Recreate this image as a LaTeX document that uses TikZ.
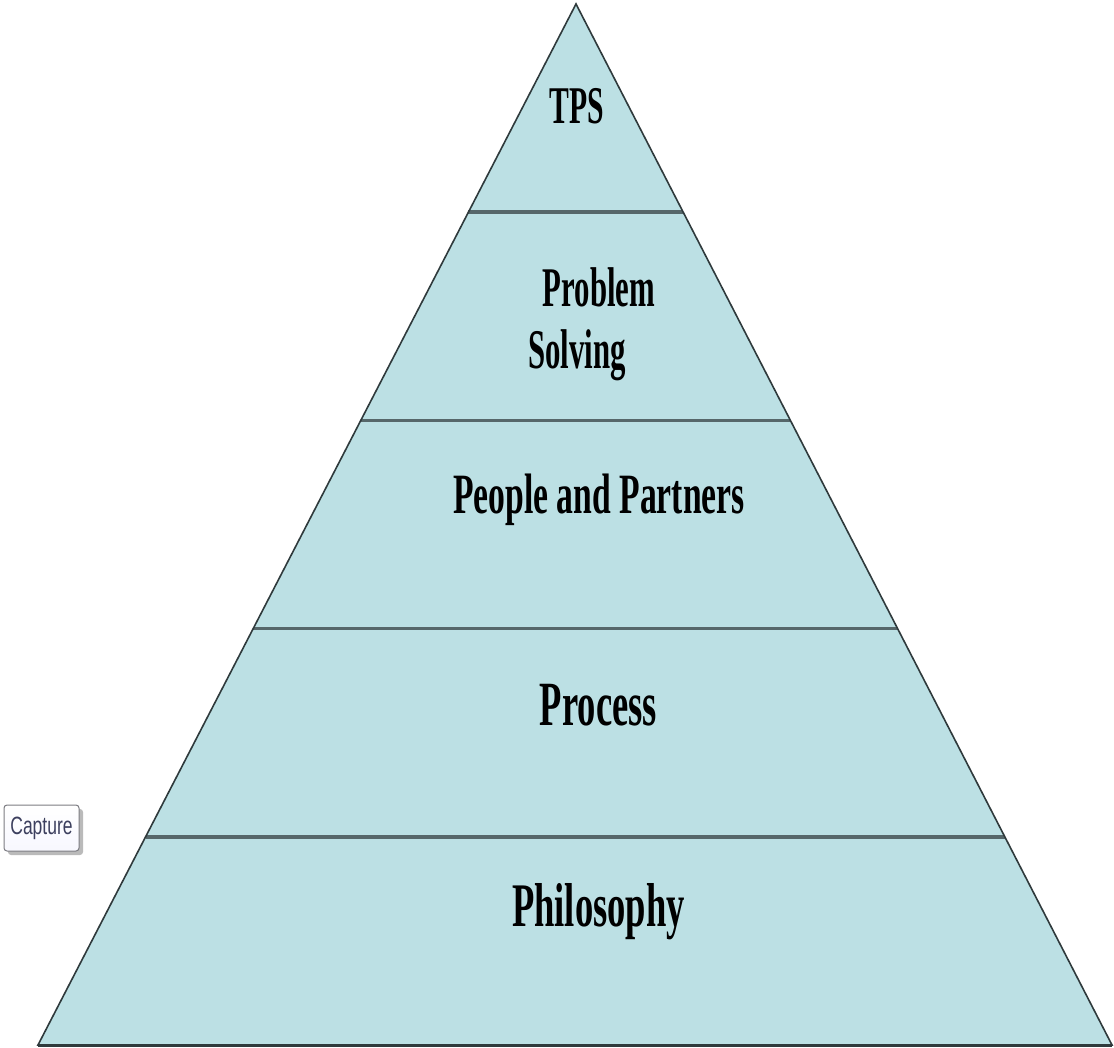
\documentclass[tikz,border=0pt]{standalone}
\usepackage{fontspec}
\setmainfont{Liberation Serif}
\newfontfamily\btnfont{Liberation Sans}
\usetikzlibrary{calc,shadows}
\definecolor{pyrfill}{HTML}{BCE0E4}
\definecolor{bandline}{HTML}{56676A}
\definecolor{edgecol}{HTML}{2F3A3C}
\definecolor{btntext}{HTML}{3C3F5E}
\definecolor{btnborder}{HTML}{7C7C82}
\begin{document}
\begin{tikzpicture}[x=1pt,y=-1pt,
  lbl/.style={anchor=base, inner sep=0pt, font=\bfseries, text=black},
  bandsep/.style={draw=bandline, line width=3.4pt},
  outline/.style={draw=edgecol, line width=1.6pt, line join=miter},
  btn/.style={draw=btnborder, line width=1pt, rounded corners=3pt,
    top color=white, bottom color=black!8!blue!3!white,
    minimum width=75pt, minimum height=46pt, inner sep=0pt,
    drop shadow={shadow xshift=4pt, shadow yshift=-4pt, fill=black!45, opacity=0.6}}]
\useasboundingbox (0,0) rectangle (1114,1048);
\coordinate (apex) at (576,4);
\coordinate (bl) at (38,1045);
\coordinate (br) at (1112,1045);
\fill[pyrfill] (apex) -- (br) -- (bl) -- cycle;
\foreach \t/\n in {0.2/a,0.4/b,0.6/c,0.8/d}{
  \coordinate (l\n) at ($(apex)!\t!(bl)$);
  \coordinate (r\n) at ($(apex)!\t!(br)$);
  \draw[bandsep] (l\n) -- (r\n);
}
\draw[outline] (apex) -- (br) -- (bl) -- cycle;
\draw[draw=edgecol, line width=3pt] (bl) -- (br);
\node[lbl] (tps) at (577,124) {\fontsize{53}{53}\selectfont\scalebox{0.56}[1]{TPS}};
\node[lbl] (problem) at (599,307) {\fontsize{56}{56}\selectfont\scalebox{0.55}[1]{Problem}};
\node[lbl] (solving) at (577,369) {\fontsize{56}{56}\selectfont\scalebox{0.55}[1]{Solving}};
\node[lbl] (people) at (599,513) {\fontsize{57}{57}\selectfont\scalebox{0.59}[1]{People and Partners}};
\node[lbl] (process) at (598.5,725) {\fontsize{63}{63}\selectfont\scalebox{0.58}[1]{Process}};
\node[lbl] (philosophy) at (598.5,926) {\fontsize{62}{62}\selectfont\scalebox{0.59}[1]{Philosophy}};
\node[btn] (capture) at (41.5,828) {\btnfont\fontsize{25}{25}\selectfont\color{btntext}\scalebox{0.7}[1]{Capture}};
\end{tikzpicture}
\end{document}
